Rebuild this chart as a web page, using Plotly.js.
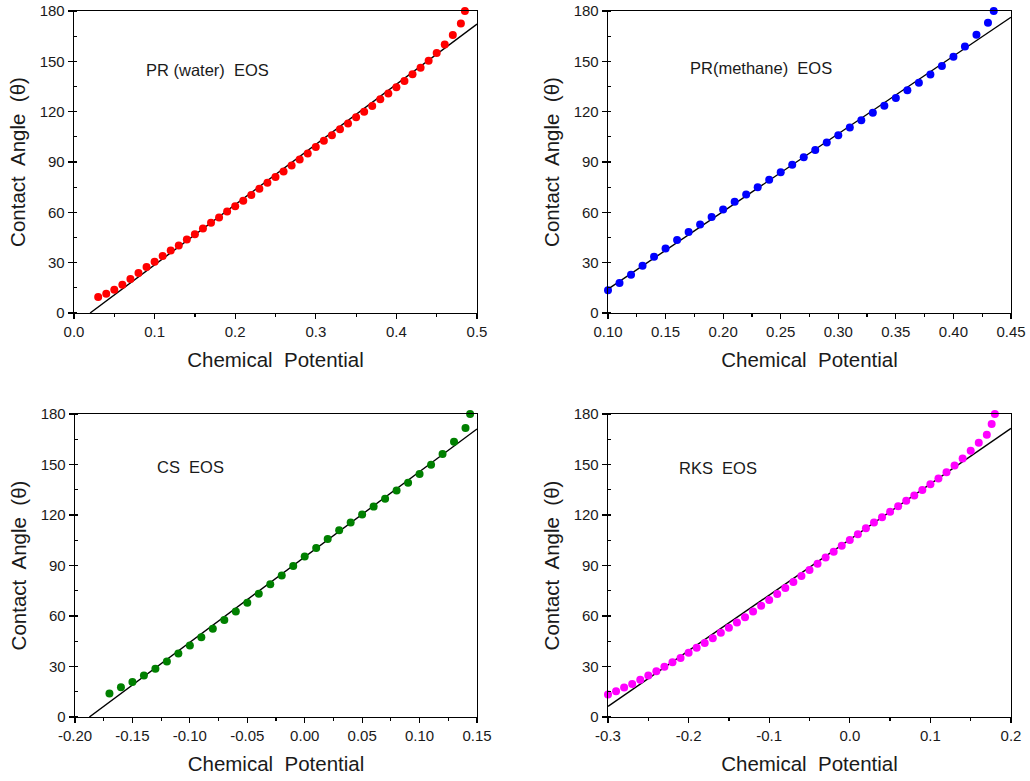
<!DOCTYPE html>
<html>
<head>
<meta charset="utf-8">
<script src="https://cdn.plot.ly/plotly-3.0.1.min.js"></script>
<style>html,body{margin:0;padding:0;background:#fff;}#chart{width:1030px;height:781px;}</style>
</head>
<body>
<div id="chart"></div>
<script>
// ---- PR (water) EOS ----
const waterX = [0.03,0.04,0.05,0.06,0.07,0.08,0.09,0.10,0.11,0.12,0.13,0.14,0.15,0.16,0.17,0.18,0.19,0.20,0.21,0.22,0.23,0.24,0.25,0.26,0.27,0.28,0.29,0.30,0.31,0.32,0.33,0.34,0.35,0.36,0.37,0.38,0.39,0.40,0.41,0.42,0.43,0.44,0.45,0.46,0.47,0.48,0.485];
const waterY = [9.5,11.5,13.9,16.9,20.2,23.8,27.4,30.6,33.9,37.3,40.3,43.8,47.0,50.4,53.8,56.9,60.5,63.7,66.9,70.4,74.0,77.6,81.0,84.3,87.9,91.5,95.0,99.0,102.6,106.0,109.5,112.9,116.7,120.0,123.4,127.4,130.8,134.5,138.3,142.3,146.2,150.4,155.0,160.1,165.7,172.6,180];
const waterFitX = [0.02, 0.5];
const waterFitY = [0, 172.2];

// ---- PR (methane) EOS ----
const methaneX = [0.10,0.11,0.12,0.13,0.14,0.15,0.16,0.17,0.18,0.19,0.20,0.21,0.22,0.23,0.24,0.25,0.26,0.27,0.28,0.29,0.30,0.31,0.32,0.33,0.34,0.35,0.36,0.37,0.38,0.39,0.40,0.41,0.42,0.43,0.435];
const methaneY = [13.5,17.9,22.8,28.2,33.5,38.5,43.5,48.3,52.8,57.2,61.7,66.3,70.6,75.0,79.4,83.9,88.3,92.9,97.2,101.6,106.0,110.5,114.9,119.3,123.6,128.2,132.7,137.3,142.1,147.2,152.8,158.9,165.9,173.0,180];
const methaneFitX = [0.10, 0.45];
const methaneFitY = [14.2, 176.3];

// ---- CS EOS ----
const csX = [-0.17,-0.16,-0.15,-0.14,-0.13,-0.12,-0.11,-0.10,-0.09,-0.08,-0.07,-0.06,-0.05,-0.04,-0.03,-0.02,-0.01,0.00,0.01,0.02,0.03,0.04,0.05,0.06,0.07,0.08,0.09,0.10,0.11,0.12,0.13,0.14,0.144];
const csY = [13.9,17.7,20.8,24.6,28.6,32.9,37.7,42.5,47.4,52.4,57.6,62.7,67.9,73.2,78.8,84.1,89.7,95.3,100.4,105.8,110.9,115.5,120.3,125.0,129.6,134.6,139.1,144.3,149.8,156.2,163.5,171.7,180];
const csFitX = [-0.1875, 0.15];
const csFitY = [0, 171.1];

// ---- RKS EOS ----
const rksX = [-0.30,-0.29,-0.28,-0.27,-0.26,-0.25,-0.24,-0.23,-0.22,-0.21,-0.20,-0.19,-0.18,-0.17,-0.16,-0.15,-0.14,-0.13,-0.12,-0.11,-0.10,-0.09,-0.08,-0.07,-0.06,-0.05,-0.04,-0.03,-0.02,-0.01,0.00,0.01,0.02,0.03,0.04,0.05,0.06,0.07,0.08,0.09,0.10,0.11,0.12,0.13,0.14,0.15,0.16,0.17,0.176,0.18];
const rksY = [13.3,15.3,17.5,19.6,22.2,24.6,27.2,29.8,32.5,35.1,38.1,41.1,43.9,46.8,50.0,53.0,56.1,59.3,62.7,66.1,69.5,73.0,76.6,80.2,83.7,87.3,91.1,94.7,98.2,101.8,105.2,108.6,112.1,115.5,118.7,121.9,125.2,128.4,131.6,134.9,138.3,141.7,145.4,149.4,153.6,158.2,162.9,167.7,174.0,180];
const rksFitX = [-0.30, 0.20];
const rksFitY = [6.35, 171.5];

// ---- tick labels ----
const yTickVals = [0,30,60,90,120,150,180];
const yTickText = ['0','30','60','90','120','150','180'];
const x1TickVals = [0.0,0.1,0.2,0.3,0.4,0.5];
const x1TickText = ['0.0','0.1','0.2','0.3','0.4','0.5'];
const x2TickVals = [0.10,0.15,0.20,0.25,0.30,0.35,0.40,0.45];
const x2TickText = ['0.10','0.15','0.20','0.25','0.30','0.35','0.40','0.45'];
const x3TickVals = [-0.20,-0.15,-0.10,-0.05,0.00,0.05,0.10,0.15];
const x3TickText = ['-0.20','-0.15','-0.10','-0.05','0.00','0.05','0.10','0.15'];
const x4TickVals = [-0.3,-0.2,-0.1,0.0,0.1,0.2];
const x4TickText = ['-0.3','-0.2','-0.1','0.0','0.1','0.2'];

const panelLabels = ['PR (water)\u00a0 EOS', 'PR(methane)\u00a0 EOS', 'CS\u00a0 EOS', 'RKS\u00a0 EOS'];
const xTitle = 'Chemical\u00a0 Potential';
const yTitle = 'Contact\u00a0 Angle\u00a0 (\u03b8)\u00a0\u00a0\u00a0\u00a0\u00a0\u00a0';

const colors = ['#ff0000', '#0000ff', '#008000', '#ff00ff'];

const series = [
  {x: waterX, y: waterY, fx: waterFitX, fy: waterFitY},
  {x: methaneX, y: methaneY, fx: methaneFitX, fy: methaneFitY},
  {x: csX, y: csY, fx: csFitX, fy: csFitY},
  {x: rksX, y: rksY, fx: rksFitX, fy: rksFitY}
];
const xRanges = [[0, 0.5], [0.10, 0.45], [-0.20, 0.15], [-0.3, 0.2]];
const xTicks = [[x1TickVals, x1TickText, 0.05], [x2TickVals, x2TickText, 0.025], [x3TickVals, x3TickText, 0.025], [x4TickVals, x4TickText, 0.05]];

const W = 1030, H = 781;
const plotBoxes = [
  [74, 477, 11, 313],
  [608, 1011, 11, 313],
  [75, 477, 414, 717],
  [608, 1011, 414, 717]
];

const traces = [];
const layout = {
  width: W, height: H,
  margin: {l: 0, r: 0, t: 0, b: 0},
  paper_bgcolor: '#ffffff',
  plot_bgcolor: '#ffffff',
  showlegend: false,
  font: {family: 'Liberation Sans, Arial, sans-serif', color: '#1a1a1a'},
  annotations: []
};

const labelPos = [[207.5, 70], [760.5, 68], [190.5, 467], [718, 468]];

series.forEach((s, i) => {
  const n = i + 1;
  const xa = 'x' + n, ya = 'y' + n;
  traces.push({
    x: s.fx, y: s.fy, type: 'scatter', mode: 'lines',
    line: {color: '#000000', width: 1.4},
    xaxis: xa, yaxis: ya, hoverinfo: 'skip'
  });
  traces.push({
    x: s.x, y: s.y, type: 'scatter', mode: 'markers',
    marker: {color: colors[i], size: 8, line: {width: 0}},
    cliponaxis: false,
    xaxis: xa, yaxis: ya
  });
  const b = plotBoxes[i];
  const xdom = [b[0] / W, b[1] / W];
  const ydom = [1 - b[3] / H, 1 - b[2] / H];
  const tk = xTicks[i];
  layout['xaxis' + n] = {
    domain: xdom, anchor: ya, range: xRanges[i],
    tickmode: 'array', tickvals: tk[0], ticktext: tk[1],
    ticks: 'outside', ticklen: 5, tickwidth: 1.2, tickcolor: '#000',
    minor: {ticks: 'outside', ticklen: 3, tickwidth: 1.2, tickcolor: '#000', dtick: tk[2], tick0: 0, showgrid: false},
    showline: true, linecolor: '#000', linewidth: 1.3, mirror: true,
    showgrid: false, zeroline: false,
    tickfont: {size: 15, color: '#1a1a1a'},
    title: {text: xTitle, font: {size: 20.5, color: '#1a1a1a'}, standoff: 13},
    automargin: false
  };
  layout['yaxis' + n] = {
    domain: ydom, anchor: xa, range: [0, 180],
    tickmode: 'array', tickvals: yTickVals, ticktext: yTickText,
    ticks: 'outside', ticklen: 5, tickwidth: 1.2, tickcolor: '#000',
    minor: {ticks: 'inside', ticklen: 3, tickwidth: 1.2, tickcolor: '#000', dtick: 15, tick0: 0, showgrid: false},
    showline: true, linecolor: '#000', linewidth: 1.3, mirror: true,
    showgrid: false, zeroline: false,
    tickfont: {size: 15, color: '#1a1a1a'},
    title: {text: yTitle, font: {size: 20.5, color: '#1a1a1a'}, standoff: 8},
    automargin: false
  };
  // mirrored inward ticks on top and right
  layout['xaxis' + (n + 4)] = {
    overlaying: xa, anchor: ya, side: 'top', range: xRanges[i],
    tickmode: 'array', tickvals: tk[0], showticklabels: false,
    ticks: 'inside', ticklen: 5, tickwidth: 1.2, tickcolor: '#000',
    minor: {ticks: 'inside', ticklen: 3, tickwidth: 1.2, tickcolor: '#000', dtick: tk[2], tick0: 0, showgrid: false},
    showline: false, showgrid: false, zeroline: false
  };
  layout['yaxis' + (n + 4)] = {
    overlaying: ya, anchor: xa, side: 'right', range: [0, 180],
    tickmode: 'array', tickvals: yTickVals, showticklabels: false,
    ticks: 'inside', ticklen: 5, tickwidth: 1.2, tickcolor: '#000',
    minor: {ticks: 'inside', ticklen: 3, tickwidth: 1.2, tickcolor: '#000', dtick: 15, tick0: 0, showgrid: false},
    showline: false, showgrid: false, zeroline: false
  };
  layout.annotations.push({
    text: panelLabels[i], xref: 'paper', yref: 'paper',
    x: labelPos[i][0] / W, y: 1 - labelPos[i][1] / H,
    xanchor: 'center', yanchor: 'middle', showarrow: false,
    font: {size: 16.5, color: '#1a1a1a'}
  });
});

Plotly.newPlot('chart', traces, layout, {staticPlot: true, displayModeBar: false});
</script>
</body>
</html>
